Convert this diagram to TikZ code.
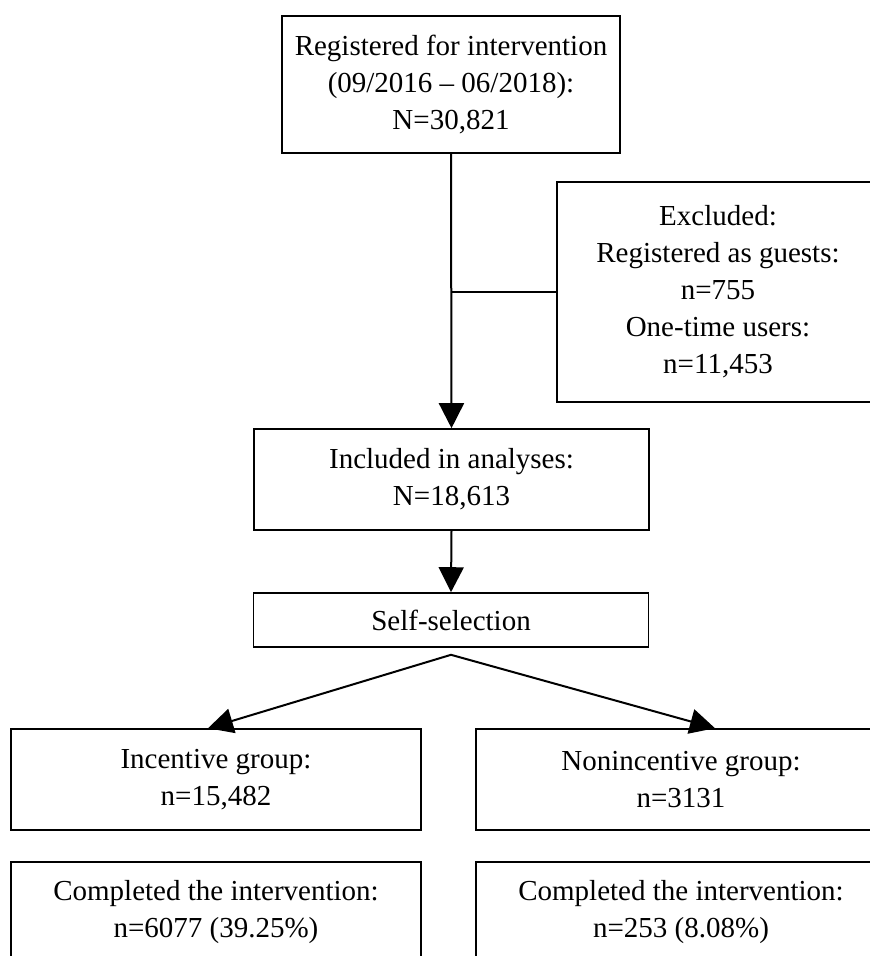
\documentclass[tikz,border=0pt]{standalone}
\usepackage{fontspec}
\setmainfont{Liberation Serif}
\usetikzlibrary{arrows.meta}
\begin{document}
\begin{tikzpicture}[x=1pt,y=-1pt,
  box/.style={draw, line width=1.6pt, align=center, inner sep=0pt, font=\fontsize{29}{37}\selectfont},
  conn/.style={line width=2pt},
  arr/.style={conn, -{Triangle[width=25pt,length=25pt]}}]
\useasboundingbox (0,0) rectangle (870,956);
\clip (0,0) rectangle (870,956);
\fill[white] (0,0) rectangle (870,956);
\node[box, minimum width=338pt, minimum height=137pt] (top) at (451,84.5) {Registered for intervention\\(09/2016 – 06/2018):\\N=30,821};
\node[box, minimum width=322pt, minimum height=220pt] (excl) at (718,292) {Excluded:\\Registered as guests:\\n=755\\One-time users:\\n=11,453};
\node[box, minimum width=395pt, minimum height=101pt] (incl) at (451.5,479.5) {Included in analyses:\\N=18,613};
\node[box, minimum width=395pt, minimum height=54pt] (self) at (451,620) {Self-selection};
\node[box, minimum width=410pt, minimum height=101pt] (inc) at (216,779.5) {Incentive group:\\n=15,482};
\node[box, minimum width=410pt, minimum height=101pt] (non) at (681,779.5) {Nonincentive group:\\n=3131};
\node[box, minimum width=410pt, minimum height=101pt] (comp1) at (216,912.5) {Completed the intervention:\\n=6077 (39.25\%)};
\node[box, minimum width=410pt, minimum height=101pt] (comp2) at (681,912.5) {Completed the intervention:\\n=253 (8.08\%)};
\coordinate (branch) at (top.south |- excl.west);
\coordinate (split) at ([yshift=-7pt]self.south);
\draw[arr] (top.south) -- (incl.north);
\draw[conn] (branch) -- (excl.west);
\draw[arr] (incl.south) -- (self.north);
\draw[arr] (split) -- ([xshift=-8pt]inc.north);
\draw[arr] (split) -- ([xshift=34pt]non.north);
\end{tikzpicture}
\end{document}
